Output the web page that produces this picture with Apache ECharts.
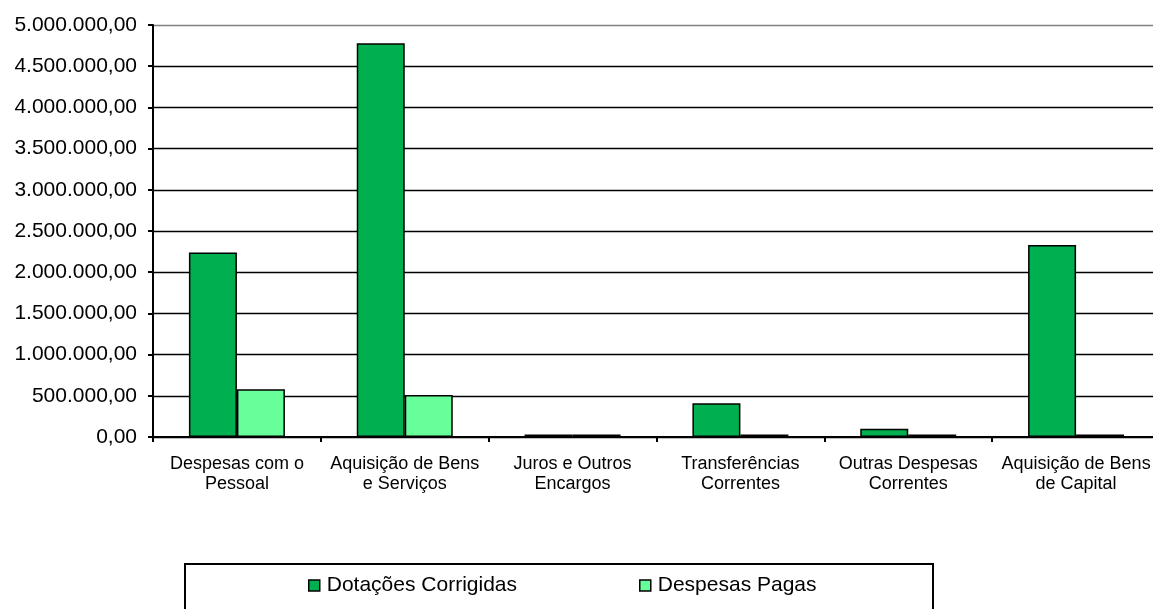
<!DOCTYPE html>
<html>
<head>
<meta charset="utf-8">
<script src="https://cdn.jsdelivr.net/npm/echarts@6/dist/echarts.min.js"></script>
<style>
html,body{margin:0;padding:0;background:#fff;}
#chart{width:1153px;height:609px;}
</style>
</head>
<body>
<div id="chart"></div>
<script>
const categories = [
  'Despesas com o\nPessoal',
  'Aquisição de Bens\ne Serviços',
  'Juros e Outros\nEncargos',
  'Transferências\nCorrentes',
  'Outras Despesas\nCorrentes',
  'Aquisição de Bens\nde Capital'
];
const seriesNames = ['Dotações Corrigidas', 'Despesas Pagas'];
const dotacoesCorrigidas = [2240000, 4780000, 30000, 410000, 100000, 2330000];
const despesasPagas = [580000, 510000, 30000, 30000, 30000, 30000];
const yMin = 0, yMax = 5000000, yInterval = 500000;

function fmtBR(v) {
  const s = Math.round(v).toString().replace(/\B(?=(\d{3})+(?!\d))/g, '.');
  return s + ',00';
}

const FONT = '"Liberation Sans", Arial, sans-serif';
const chart = echarts.init(document.getElementById('chart'), null, {renderer: 'canvas'});
const splitColors = [];
for (let i = 0; i < 10; i++) splitColors.push('#000000');
splitColors.push('#808080');

chart.setOption({
  animation: false,
  backgroundColor: '#ffffff',
  textStyle: {fontFamily: FONT},
  grid: {left: 153, top: 25, width: 1007, height: 412, containLabel: false, outerBoundsMode: 'none'},
  legend: [
    {
      data: [seriesNames[0]], left: 308, top: 575, padding: 0,
      itemWidth: 11, itemHeight: 11, itemGap: 0, icon: 'rect',
      itemStyle: {borderColor: '#000', borderWidth: 1.5},
      textStyle: {fontFamily: FONT, fontSize: 21, color: '#000', padding: [0,0,0,2]}
    },
    {
      data: [seriesNames[1]], left: 639, top: 575, padding: 0,
      itemWidth: 11, itemHeight: 11, itemGap: 0, icon: 'rect',
      itemStyle: {borderColor: '#000', borderWidth: 1.5},
      textStyle: {fontFamily: FONT, fontSize: 21, color: '#000', padding: [0,0,0,2]}
    }
  ],
  graphic: [
    {type: 'rect', shape: {x: 185, y: 564, width: 748, height: 60},
     style: {fill: 'none', stroke: '#000', lineWidth: 2}, z: 0, silent: true}
  ],
  xAxis: {
    type: 'category',
    data: categories,
    axisLine: {lineStyle: {color: '#000', width: 2}},
    axisTick: {show: true, length: 5, alignWithLabel: false, lineStyle: {color: '#000', width: 2}},
    axisLabel: {fontFamily: FONT, fontSize: 18, color: '#000', margin: 17, lineHeight: 20, interval: 0}
  },
  yAxis: {
    type: 'value',
    min: yMin, max: yMax, interval: yInterval,
    axisLine: {show: true, lineStyle: {color: '#000', width: 2}},
    axisTick: {show: true, length: 5, lineStyle: {color: '#000', width: 2}},
    axisLabel: {fontFamily: FONT, fontSize: 21, color: '#000', margin: 16, formatter: fmtBR},
    splitLine: {show: true, lineStyle: {color: splitColors, width: 1.3}}
  },
  series: [
    {
      name: seriesNames[0], type: 'bar', data: dotacoesCorrigidas,
      barWidth: 48, barGap: '0%',
      itemStyle: {color: '#00B050', borderColor: '#000', borderWidth: 1.5}
    },
    {
      name: seriesNames[1], type: 'bar', data: despesasPagas,
      barWidth: 48, barGap: '0%',
      itemStyle: {color: '#66FF99', borderColor: '#000', borderWidth: 1.5}
    }
  ]
});
</script>
</body>
</html>
